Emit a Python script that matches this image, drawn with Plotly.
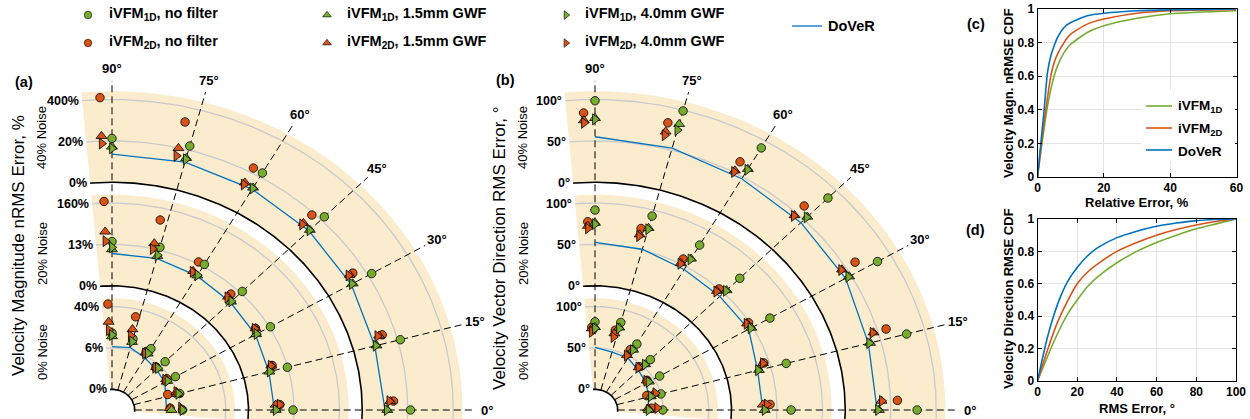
import numpy as np
import plotly.graph_objects as go

W, H = 1250, 419

# ---------------- data ----------------
angles = [0, 15, 30, 45, 60, 75, 90]
band_inner = [0.5, 3.0, 5.5]          # radial start of each noise band (grid units)
band_depth = 2.2
noise_labels = ["0% Noise", "20% Noise", "40% Noise"]
mag_tick_labels = [["0%", "6%", "40%"], ["0%", "13%", "160%"], ["0%", "20%", "400%"]]
dir_tick_labels = [["0°", "50°", "100°"], ["0°", "50°", "100°"], ["0°", "50°", "100°"]]
angle_labels = ["0°", "15°", "30°", "45°", "60°", "75°", "90°"]

# (a) velocity magnitude nRMS error, radial grid units above band start; rows = 0%, 20%, 40% noise
mag_1d_nofilt = [[1.05, 1.04, 1.11, 1.15, 1.21, 1.28, 1.36],
                 [0.98, 0.99, 1.02, 1.05, 1.06, 1.07, 1.07],
                 [1.06, 1.06, 1.09, 1.10, 1.11, 1.10, 1.06]]
mag_2d_nofilt = [[0.78, 0.78, 0.92, 0.92, 1.10, 1.81, 2.06],
                 [0.69, 0.68, 0.72, 0.83, 1.05, 1.71, 2.04],
                 [0.69, 0.71, 0.74, 0.94, 1.12, 1.64, 2.05]]
mag_1d_gwf15 = [[0.81, 0.98, 0.90, 0.92, 1.07, 1.20, 1.28],
                [0.60, 0.58, 0.66, 0.70, 0.75, 0.85, 0.88],
                [0.55, 0.52, 0.61, 0.65, 0.70, 0.80, 0.86]]
mag_2d_gwf15 = [[0.77, 0.98, 0.90, 0.92, 1.08, 1.50, 1.63],
                [0.60, 0.66, 0.72, 0.74, 0.80, 1.13, 1.31],
                [0.62, 0.64, 0.66, 0.67, 0.72, 0.99, 1.12]]
mag_1d_gwf40 = [[1.05, 1.01, 0.91, 0.93, 1.08, 1.21, 1.31],
                [0.60, 0.59, 0.67, 0.71, 0.76, 0.87, 0.93],
                [0.54, 0.50, 0.59, 0.64, 0.68, 0.77, 0.82]]
mag_2d_gwf40 = [[1.02, 0.98, 0.88, 0.90, 1.05, 1.34, 1.43],
                [0.69, 0.65, 0.70, 0.72, 0.78, 0.99, 1.08],
                [0.60, 0.60, 0.63, 0.63, 0.67, 0.80, 0.94]]
mag_dover = [[0.70, 0.73, 0.84, 0.88, 0.95, 1.06, 1.03],
             [0.57, 0.57, 0.64, 0.68, 0.74, 0.79, 0.78],
             [0.50, 0.48, 0.57, 0.62, 0.66, 0.70, 0.68]]

# (b) velocity vector direction RMS error
dir_1d_nofilt = [[0.99, 1.00, 1.14, 1.22, 1.34, 1.69, 1.63],
                 [1.31, 1.35, 1.44, 1.50, 1.60, 1.85, 1.83],
                 [1.58, 1.59, 1.67, 1.74, 1.81, 1.98, 1.97]]
dir_2d_nofilt = [[0.75, 0.69, 0.85, 0.93, 1.15, 1.48, 1.50],
                 [0.85, 0.88, 0.98, 1.00, 1.13, 1.50, 1.55],
                 [1.15, 1.19, 1.24, 1.24, 1.29, 1.62, 1.68]]
dir_1d_gwf15 = [[0.68, 0.77, 0.87, 1.06, 1.18, 1.56, 1.50],
                [0.73, 0.73, 0.97, 1.09, 1.22, 1.55, 1.52],
                [0.74, 0.76, 0.95, 1.10, 1.22, 1.65, 1.55]]
dir_2d_gwf15 = [[0.67, 0.85, 0.84, 0.91, 1.00, 1.40, 1.47],
                [0.69, 0.86, 0.94, 0.93, 1.02, 1.35, 1.45],
                [0.80, 0.90, 0.90, 0.93, 1.05, 1.40, 1.50]]
dir_1d_gwf40 = [[0.68, 0.77, 0.86, 1.05, 1.17, 1.54, 1.47],
                [0.73, 0.71, 0.95, 1.07, 1.20, 1.52, 1.49],
                [0.72, 0.74, 0.93, 1.08, 1.20, 1.50, 1.52]]
dir_2d_gwf40 = [[0.87, 0.89, 0.83, 0.90, 0.99, 1.31, 1.39],
                [0.78, 0.86, 0.93, 0.91, 1.00, 1.31, 1.39],
                [0.81, 0.88, 0.88, 0.91, 1.01, 1.31, 1.44]]
dir_dover = [[0.67, 0.72, 0.80, 0.85, 0.95, 0.95, 1.01],
             [0.69, 0.70, 0.90, 0.88, 0.92, 1.02, 1.05],
             [0.70, 0.72, 0.86, 0.90, 0.95, 1.05, 1.10]]

# (c) CDF of velocity magnitude nRMSE
cdf_mag_x = [0, 1, 2, 3, 4, 5, 6, 8, 10, 15, 20, 30, 40, 60]
cdf_mag_1d = [0, 0.15, 0.29, 0.42, 0.52, 0.60, 0.66, 0.74, 0.79, 0.86, 0.90, 0.945, 0.972, 0.99]
cdf_mag_2d = [0, 0.17, 0.33, 0.47, 0.60, 0.68, 0.73, 0.80, 0.85, 0.91, 0.94, 0.975, 0.99, 0.998]
cdf_mag_dover = [0, 0.20, 0.40, 0.62, 0.72, 0.78, 0.83, 0.89, 0.92, 0.96, 0.975, 0.99, 0.995, 1.0]

# (d) CDF of velocity direction RMSE
cdf_dir_x = [0, 5, 10, 15, 20, 25, 30, 40, 50, 60, 70, 80, 90, 100]
cdf_dir_1d = [0, 0.15, 0.29, 0.41, 0.50, 0.58, 0.64, 0.73, 0.80, 0.855, 0.90, 0.94, 0.97, 1.0]
cdf_dir_2d = [0, 0.19, 0.36, 0.49, 0.60, 0.67, 0.72, 0.80, 0.855, 0.90, 0.935, 0.963, 0.985, 1.0]
cdf_dir_dover = [0, 0.27, 0.47, 0.61, 0.70, 0.77, 0.82, 0.885, 0.925, 0.955, 0.975, 0.99, 0.997, 1.0]

# ---------------- styles ----------------
GREEN = "#77AC30"
ORANGE = "#D95319"
BLUE = "#0072BD"
BEIGE = "#FAECCD"
GRID = "#C9CACE"
FONT = "Liberation Sans, Arial, Helvetica, sans-serif"
OFF_2D = 2.0  # angular offset of 2D markers (deg)

series_style = [  # key, color, symbol, angular offset, size
    ("2d_nofilt", ORANGE, "circle", OFF_2D, 8.5),
    ("1d_nofilt", GREEN, "circle", 0.0, 8.5),
    ("2d_gwf15", ORANGE, "triangle-up", OFF_2D, 9.5),
    ("1d_gwf15", GREEN, "triangle-up", 0.0, 9.5),
    ("2d_gwf40", ORANGE, "triangle-right", OFF_2D, 9.5),
    ("1d_gwf40", GREEN, "triangle-right", 0.0, 9.5),
]
mag_series = {"1d_nofilt": mag_1d_nofilt, "2d_nofilt": mag_2d_nofilt,
              "1d_gwf15": mag_1d_gwf15, "2d_gwf15": mag_2d_gwf15,
              "1d_gwf40": mag_1d_gwf40, "2d_gwf40": mag_2d_gwf40}
dir_series = {"1d_nofilt": dir_1d_nofilt, "2d_nofilt": dir_2d_nofilt,
              "1d_gwf15": dir_1d_gwf15, "2d_gwf15": dir_2d_gwf15,
              "1d_gwf40": dir_1d_gwf40, "2d_gwf40": dir_2d_gwf40}

fig = go.Figure()


def pol(r, th):
    t = np.deg2rad(np.asarray(th, float))
    r = np.asarray(r, float)
    return r * np.cos(t), r * np.sin(t)


def add(tr, xa, ya):
    tr.update(xaxis=xa, yaxis=ya, showlegend=False, hoverinfo="skip")
    fig.add_trace(tr)


annotations = []


def pxx(x):
    return x / W


def pxy(y):
    return 1 - y / H


def draw_polar(xa, ya, series, dover, ticklabels):
    th = np.linspace(-5, 95, 201)
    for b, r0 in enumerate(band_inner):
        xo, yo = pol(r0 + band_depth, th)
        xi, yi = pol(r0, th[::-1])
        add(go.Scatter(x=np.r_[xo, xi, xo[:1]], y=np.r_[yo, yi, yo[:1]], mode="none",
                       fill="toself", fillcolor=BEIGE), xa, ya)
        for k in (1, 2):
            x, y = pol(r0 + k, th)
            add(go.Scatter(x=x, y=y, mode="lines", line=dict(color=GRID, width=1.3)), xa, ya)
        x, y = pol(r0, th)
        add(go.Scatter(x=x, y=y, mode="lines", line=dict(color="black", width=1.6)), xa, ya)
        for k in range(3):
            lx, ly = pol(r0 + k, 95)
            annotations.append(dict(x=float(lx), y=float(ly), xref=xa, yref=ya,
                                    text=ticklabels[b][k], showarrow=False, xanchor="right",
                                    yanchor="middle", xshift=-1,
                                    font=dict(family=FONT, size=12.5, color="black", weight="bold")))
    for a, lab in zip(angles, angle_labels):
        x, y = pol([band_inner[0], 7.95], [a, a])
        add(go.Scatter(x=x, y=y, mode="lines",
                       line=dict(color="black", width=1, dash="7px,4px")), xa, ya)
        lx, ly = pol(8.25, a)
        annotations.append(dict(x=float(lx), y=float(ly), xref=xa, yref=ya, text=lab,
                                showarrow=False, xanchor="center", yanchor="middle",
                                font=dict(family=FONT, size=13, color="black", weight="bold")))
    for b, r0 in enumerate(band_inner):
        x, y = pol(r0 + np.asarray(dover[b]), angles)
        add(go.Scatter(x=x, y=y, mode="lines", line=dict(color=BLUE, width=1.3)), xa, ya)
    for key, col, sym, off, sz in series_style:
        for b, r0 in enumerate(band_inner):
            x, y = pol(r0 + np.asarray(series[key][b]), np.asarray(angles) + off)
            add(go.Scatter(x=x, y=y, mode="markers",
                           marker=dict(color=col, symbol=sym, size=sz,
                                       line=dict(color="black", width=0.8))), xa, ya)


draw_polar("x", "y", mag_series, mag_dover, mag_tick_labels)
draw_polar("x2", "y2", dir_series, dir_dover, dir_tick_labels)

# CDF panels
for xs, ys, col in [(cdf_mag_x, cdf_mag_1d, GREEN), (cdf_mag_x, cdf_mag_2d, ORANGE),
                    (cdf_mag_x, cdf_mag_dover, BLUE)]:
    add(go.Scatter(x=xs, y=ys, mode="lines", line=dict(color=col, width=1.6, shape="spline",
                                                       smoothing=0.6)), "x3", "y3")
for xs, ys, col in [(cdf_dir_x, cdf_dir_1d, GREEN), (cdf_dir_x, cdf_dir_2d, ORANGE),
                    (cdf_dir_x, cdf_dir_dover, BLUE)]:
    add(go.Scatter(x=xs, y=ys, mode="lines", line=dict(color=col, width=1.6, shape="spline",
                                                       smoothing=0.6)), "x4", "y4")

# top legend glyphs on a pixel overlay axis
leg_rows = [15, 43]
leg_cols = [88, 327, 566]
leg_text_x = [107, 345, 583]
leg_names = [["iVFM<sub>1D</sub>, no filter", "iVFM<sub>1D</sub>, 1.5mm GWF", "iVFM<sub>1D</sub>, 4.0mm GWF"],
             ["iVFM<sub>2D</sub>, no filter", "iVFM<sub>2D</sub>, 1.5mm GWF", "iVFM<sub>2D</sub>, 4.0mm GWF"]]
leg_syms = ["circle", "triangle-up", "triangle-right"]
leg_cols_c = [GREEN, ORANGE]
for ri, yy in enumerate(leg_rows):
    for ci, xx in enumerate(leg_cols):
        add(go.Scatter(x=[xx], y=[yy], mode="markers",
                       marker=dict(color=leg_cols_c[ri], symbol=leg_syms[ci], size=7.5,
                                   line=dict(color="black", width=0.6))), "x5", "y5")
        annotations.append(dict(x=pxx(leg_text_x[ci]), y=pxy(yy - 1), xref="paper", yref="paper",
                                text=leg_names[ri][ci], showarrow=False, xanchor="left",
                                yanchor="middle",
                                font=dict(family=FONT, size=14.5, color="black", weight="bold")))
add(go.Scatter(x=[792, 822], y=[26, 26], mode="lines", line=dict(color=BLUE, width=1.3)), "x5", "y5")
annotations.append(dict(x=pxx(826), y=pxy(26), xref="paper", yref="paper", text="DoVeR",
                        showarrow=False, xanchor="left", yanchor="middle",
                        font=dict(family=FONT, size=14.5, color="black", weight="bold")))

# panel letters and titles
for txt, x, y in [("(a)", 24, 82), ("(b)", 505, 80), ("(c)", 976, 24), ("(d)", 975, 230)]:
    annotations.append(dict(x=pxx(x), y=pxy(y), xref="paper", yref="paper", text=txt,
                            showarrow=False, xanchor="center", yanchor="middle",
                            font=dict(family=FONT, size=14.5, color="black", weight="bold")))

for txt, x, y in [("Velocity Magnitude nRMS Error, %", 18, 246),
                  ("Velocity Vector Direction RMS Error, °", 500, 248)]:
    annotations.append(dict(x=pxx(x), y=pxy(y), xref="paper", yref="paper", text=txt,
                            showarrow=False, textangle=-90, xanchor="center", yanchor="middle",
                            font=dict(family=FONT, size=17, color="black")))
noise_y = [352, 254, 138]
for nx in (42, 523):
    for lab, y in zip(noise_labels, noise_y):
        annotations.append(dict(x=pxx(nx), y=pxy(y), xref="paper", yref="paper", text=lab,
                                showarrow=False, textangle=-90, xanchor="center", yanchor="middle",
                                font=dict(family=FONT, size=13, color="black")))

for txt, x, y, ang in [("Relative Error, %", 1137, 202, 0), ("RMS Error, °", 1137, 408, 0),
                       ("Velocity Magn. nRMSE CDF", 1008, 93, -90),
                       ("Velocity Direction RMSE CDF", 1008, 299, -90)]:
    annotations.append(dict(x=pxx(x), y=pxy(y), xref="paper", yref="paper", text=txt,
                            showarrow=False, textangle=ang, xanchor="center", yanchor="middle",
                            font=dict(family=FONT, size=13, color="black", weight="bold")))

# CDF legend in (c)
shapes = [dict(type="rect", xref="paper", yref="paper", x0=pxx(1141), x1=pxx(1235),
               y0=pxy(161), y1=pxy(90), fillcolor="white", line=dict(width=0), layer="above")]
for lab, col, y in [("iVFM<sub>1D</sub>", GREEN, 106), ("iVFM<sub>2D</sub>", ORANGE, 128),
                    ("DoVeR", BLUE, 150)]:
    shapes.append(dict(type="line", xref="paper", yref="paper", x0=pxx(1146), x1=pxx(1172),
                       y0=pxy(y), y1=pxy(y), line=dict(color=col, width=1.6), layer="above"))
    annotations.append(dict(x=pxx(1176), y=pxy(y + 1), xref="paper", yref="paper", text=lab,
                            showarrow=False, xanchor="left", yanchor="middle",
                            font=dict(family=FONT, size=13.5, color="black", weight="bold")))

hidden = dict(visible=False, fixedrange=True, automargin=False)
polar_y = dict(hidden, domain=[0, 1], range=[-(H - 410) / 41.4, 410 / 41.4])
cdf_common = dict(showgrid=True, gridcolor="#E3E3E3", gridwidth=1, zeroline=False, showline=True,
                  linecolor="black", linewidth=1, mirror="ticks", ticks="inside", ticklen=4,
                  tickcolor="black", fixedrange=True, automargin=False,
                  tickfont=dict(family=FONT, size=12, color="black", weight="bold"))
yt = [0, 0.2, 0.4, 0.6, 0.8, 1]
ytt = ["0", "0.2", "0.4", "0.6", "0.8", "1"]

fig.update_layout(
    width=W, height=H, margin=dict(l=0, r=0, t=0, b=0, autoexpand=False),
    paper_bgcolor="white", plot_bgcolor="rgba(0,0,0,0)", showlegend=False,
    xaxis=dict(hidden, domain=[0, 0.4], range=[-112 / 45.5, (500 - 112) / 45.5], anchor="y"),
    yaxis=dict(polar_y, anchor="x"),
    xaxis2=dict(hidden, domain=[0.4, 0.8], range=[-(595 - 500) / 45.5, (1000 - 595) / 45.5],
                anchor="y2"),
    yaxis2=dict(polar_y, anchor="x2"),
    xaxis3=dict(cdf_common, domain=[pxx(1037.5), pxx(1236.5)], range=[0, 60],
                tickvals=[0, 20, 40, 60], anchor="y3"),
    yaxis3=dict(cdf_common, domain=[pxy(177), pxy(9)], range=[0, 1], tickvals=yt, ticktext=ytt,
                anchor="x3"),
    xaxis4=dict(cdf_common, domain=[pxx(1037.5), pxx(1236)], range=[0, 100],
                tickvals=[0, 20, 40, 60, 80, 100], anchor="y4"),
    yaxis4=dict(cdf_common, domain=[pxy(381), pxy(219)], range=[0, 1], tickvals=yt, ticktext=ytt,
                anchor="x4"),
    xaxis5=dict(hidden, domain=[0, 1], range=[0, W], anchor="y5"),
    yaxis5=dict(hidden, domain=[0, 1], range=[H, 0], anchor="x5"),
    annotations=annotations, shapes=shapes,
)

fig.write_html("out.html", config={"displayModeBar": False},
               post_script="document.body.style.margin='0px';document.body.style.overflow='hidden';")
